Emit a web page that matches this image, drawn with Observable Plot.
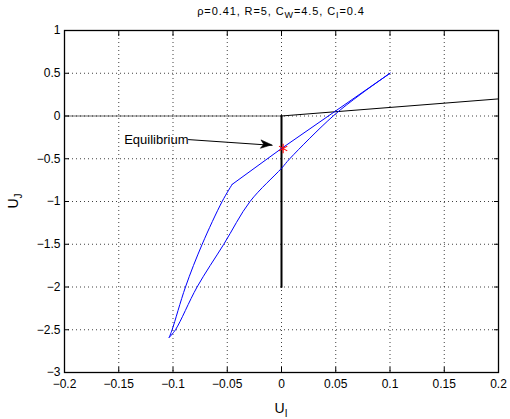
<!DOCTYPE html>
<html>
<head>
<meta charset="utf-8">
<script src="https://cdn.jsdelivr.net/npm/d3@7"></script>
<script src="https://cdn.jsdelivr.net/npm/@observablehq/plot@0.6"></script>
<style>
  body { margin: 0; background: #fff; }
  #chart { width: 510px; height: 419px; }
</style>
</head>
<body>
<div id="chart"></div>
<script>
// ---- data ----
const xTicks = [-0.2, -0.15, -0.1, -0.05, 0, 0.05, 0.1, 0.15, 0.2];
const yTicks = [-3, -2.5, -2, -1.5, -1, -0.5, 0, 0.5, 1];

// blue loop: lower branch (top -> bottom), smooth
const lowerX = [0.1, 0.0725, 0.0476, 0.0076, 0, -0.029, -0.0532, -0.0778, -0.0977, -0.1035];
const lowerY = [0.5, 0.25, 0, -0.5, -0.612, -1, -1.5, -2, -2.5, -2.59];
// upper branch (bottom -> kink), smooth
const upperX = [-0.1035, -0.1008, -0.0885, -0.0731, -0.0547, -0.0455];
const upperY = [-2.59, -2.5, -2, -1.5, -1, -0.8];
// upper branch (kink -> top), straight
const upperTopX = [-0.0455, 0, 0.1];
const upperTopY = [-0.8, -0.38, 0.5];

// black reference lines
const floorX = [-0.2, 0];
const floorY = [0, 0];
const rampX = [0, 0.2];
const rampY = [0, 0.2];
const stemX = [0, 0];
const stemY = [0, -2];

// equilibrium point
const eqX = [0.0015];
const eqY = [-0.38];

// annotation
const noteX = [-0.0857, -0.0086];
const noteY = [-0.276, -0.343];
const noteText = "Equilibrium";

const titleParts = [["ρ=0.41, R=5, C", false], ["W", true], ["=4.5, C", false], ["I", true], ["=0.4", false]];
const xLabel = [["U", false], ["I", true]];
const yLabel = [["U", false], ["J", true]];

// ---- helpers ----
const pts = (xs, ys) => xs.map((x, i) => ({x, y: ys[i]}));
const FONT = "'Liberation Sans', Arial, Helvetica, sans-serif";
const W = 510, H = 419, ML = 64, MR = 12, MT = 30, MB = 47;
const fmt = d3.format("");

const arrowHead = (index, scales) => {
  const x0 = scales.x(noteX[0]), y0 = scales.y(noteY[0]);
  const x1 = scales.x(noteX[1]), y1 = scales.y(noteY[1]);
  const a = Math.atan2(y1 - y0, x1 - x0) * 180 / Math.PI;
  const g = d3.create("svg:g");
  g.append("polygon")
    .attr("points", "0,0 -11,-4.2 -8,0 -11,4.2")
    .attr("fill", "#000")
    .attr("stroke", "#000")
    .attr("stroke-width", 0.6)
    .attr("transform", `translate(${x1},${y1}) rotate(${a})`);
  return g.node();
};

const plot = Plot.plot({
  width: W,
  height: H,
  marginLeft: ML,
  marginRight: MR,
  marginTop: MT,
  marginBottom: MB,
  x: {domain: [-0.2, 0.2]},
  y: {domain: [-3, 1]},
  style: {fontFamily: FONT, fontSize: "12px", background: "#fff", color: "#000"},
  marks: [
    Plot.gridX({ticks: xTicks, stroke: "#000", strokeOpacity: 0.75, strokeDasharray: "1,3"}),
    Plot.gridY({ticks: yTicks, stroke: "#000", strokeOpacity: 0.75, strokeDasharray: "1,3"}),
    Plot.line(pts(floorX, floorY), {x: "x", y: "y", stroke: "#000", strokeWidth: 0.6}),
    Plot.line(pts(rampX, rampY), {x: "x", y: "y", stroke: "#000", strokeWidth: 1}),
    Plot.line(pts(stemX, stemY), {x: "x", y: "y", stroke: "#000", strokeWidth: 2}),
    Plot.line(pts(lowerX, lowerY), {x: "x", y: "y", stroke: "#0000ff", strokeWidth: 1, curve: "catmull-rom"}),
    Plot.line(pts(upperX, upperY), {x: "x", y: "y", stroke: "#0000ff", strokeWidth: 1, curve: "catmull-rom"}),
    Plot.line(pts(upperTopX, upperTopY), {x: "x", y: "y", stroke: "#0000ff", strokeWidth: 1}),
    Plot.dot(pts(eqX, eqY), {x: "x", y: "y", symbol: "asterisk", r: 4.5, stroke: "#ff0000", strokeWidth: 1.1}),
    Plot.line(pts(noteX, noteY), {x: "x", y: "y", stroke: "#000", strokeWidth: 1}),
    arrowHead,
    Plot.text([noteText], {x: noteX[0], y: noteY[0], text: d => d, textAnchor: "end", dx: 0, fontSize: 13, fill: "#000"}),
    Plot.axisX({ticks: xTicks, anchor: "bottom", tickSize: -5, tickPadding: 12, label: null, fontSize: 12, tickFormat: fmt}),
    Plot.axisX({ticks: xTicks, anchor: "top", tickSize: -5, tickFormat: () => "", label: null}),
    Plot.axisY({ticks: yTicks, anchor: "left", tickSize: -5, tickPadding: 9, label: null, fontSize: 12, tickFormat: fmt}),
    Plot.axisY({ticks: yTicks, anchor: "right", tickSize: -5, tickFormat: () => "", label: null}),
    Plot.frame({stroke: "#000", strokeWidth: 1.3})
  ]
});

// text with subscripts
function richText(sel, parts, size, subSize) {
  let sub = false;
  parts.forEach(([t, isSub]) => {
    const ts = sel.append("tspan").text(t).attr("font-size", isSub ? subSize : size);
    if (isSub && !sub) ts.attr("dy", size * 0.3);
    if (!isSub && sub) ts.attr("dy", -size * 0.3);
    sub = isSub;
  });
}

const svg = d3.select(plot);
const cx = (ML + W - MR) / 2;
const title = svg.append("text")
  .attr("x", cx).attr("y", 15)
  .attr("text-anchor", "middle")
  .attr("font-family", FONT)
  .attr("letter-spacing", "0.9px")
  .attr("fill", "#000");
richText(title, titleParts, 11, 9);

const xl = svg.append("text")
  .attr("x", cx).attr("y", 413)
  .attr("text-anchor", "middle")
  .attr("font-family", FONT)
  .attr("fill", "#000");
richText(xl, xLabel, 14, 10);

const yl = svg.append("text")
  .attr("transform", `translate(18,${(MT + H - MB) / 2}) rotate(-90)`)
  .attr("text-anchor", "middle")
  .attr("font-family", FONT)
  .attr("fill", "#000");
richText(yl, yLabel, 14, 10);

document.getElementById("chart").appendChild(plot);
</script>
</body>
</html>
